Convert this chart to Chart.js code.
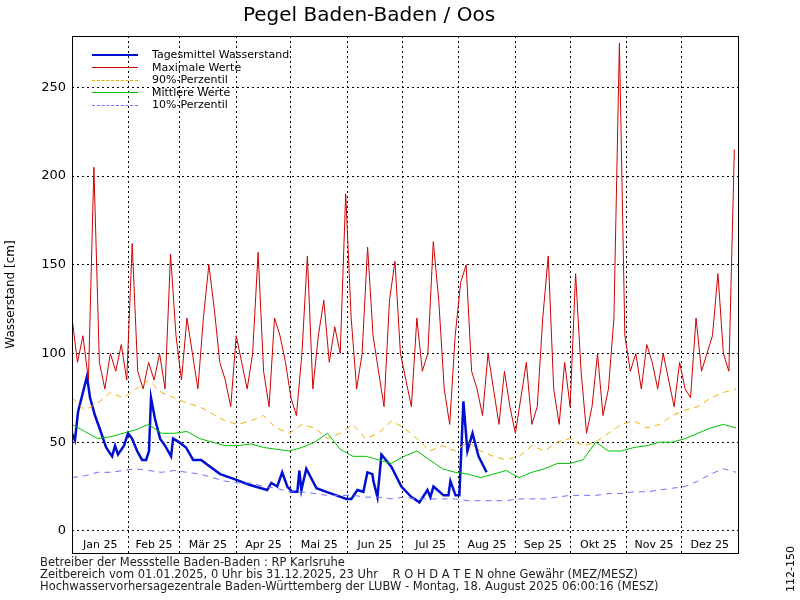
<!DOCTYPE html>
<html>
<head>
<meta charset="utf-8">
<script src="https://cdn.jsdelivr.net/npm/chart.js@4.4.1/dist/chart.umd.min.js"></script>
<style>
  body { margin: 0; background: #fff; font-family: "DejaVu Sans", sans-serif; }
  #wrap { position: relative; width: 800px; height: 600px; }
  #legend { position: absolute; left: 92px; top: 49px; font-size: 11px; line-height: 12.5px; }
  #legend div { display: flex; align-items: center; }
  #legend span.l { display: block; width: 46px; height: 0; margin-right: 14px; }
  #foot { position: absolute; left: 40px; top: 556px; font-size: 11.5px; line-height: 12px; color: #222; white-space: pre; }
  #code { position: absolute; left: 784px; top: 592px; font-size: 11px; white-space: nowrap; transform: rotate(-90deg); transform-origin: left top; }
</style>
</head>
<body>
<div id="wrap">
  <canvas id="c" width="800" height="600"></canvas>
  <div id="legend">
    <div><span class="l" style="border-top:2.5px solid #0010d0"></span>Tagesmittel Wasserstand</div>
    <div><span class="l" style="border-top:1.5px solid #d00000"></span>Maximale Werte</div>
    <div><span class="l" style="border-top:1.5px dashed #f0b000"></span>90%-Perzentil</div>
    <div><span class="l" style="border-top:1.5px solid #00c000"></span>Mittlere Werte</div>
    <div><span class="l" style="border-top:1.5px dashed #7070ff"></span>10%-Perzentil</div>
  </div>
  <div id="foot">Betreiber der Messstelle Baden-Baden : RP Karlsruhe
Zeitbereich vom 01.01.2025, 0 Uhr bis 31.12.2025, 23 Uhr    R O H D A T E N ohne Gewähr (MEZ/MESZ)
Hochwasservorhersagezentrale Baden-Württemberg der LUBW - Montag, 18. August 2025 06:00:16 (MESZ)</div>
  <div id="code">112-150</div>
</div>
<script>
const monthNames = ["Jan 25", "Feb 25", "Mär 25", "Apr 25", "Mai 25", "Jun 25", "Jul 25", "Aug 25", "Sep 25", "Okt 25", "Nov 25", "Dez 25"];
const monthStarts = [0, 31, 59, 90, 120, 151, 181, 212, 243, 273, 304, 334, 365];
const yTicks = [0, 50, 100, 150, 200, 250];

// Tagesmittel (day of year, cm)
const meanDays = [0, 1.6, 3.3, 8.2, 9.9, 12.6, 15.4, 18.7, 22, 23.6, 25.2, 28.5, 30.7, 32.9, 35.7, 38.4, 40.6, 42.2, 43.3, 45.5, 48.3, 51, 54.3, 55.4, 58.7, 62.5, 66.4, 70.8, 74.6, 81.2, 89.4, 97.1, 103.7, 107, 109.2, 112.5, 115.2, 118, 120.7, 123.5, 124.6, 125.7, 128.4, 134, 139.4, 144.9, 150.4, 153.1, 156.4, 159.7, 161.9, 164.6, 165.2, 167.4, 169.6, 175.1, 180.5, 186, 187.7, 190.4, 194.8, 196.4, 198.1, 201.4, 203.6, 206.3, 207.4, 210.2, 212.3, 214.5, 216.7, 219.5, 222.8, 227.2];
const meanVals = [55, 51, 67, 87, 75, 65, 57, 47, 42, 48, 43, 48, 55, 52, 45, 40, 40, 45, 75, 63, 52, 48, 42, 52, 50, 47, 40, 40, 37, 32, 29, 26, 24, 23, 27, 25, 33, 25, 22, 22, 34, 23, 35, 24, 22, 20, 18, 18, 23, 22, 33, 32, 28, 19, 43, 36, 25, 19, 18, 16, 23, 19, 25, 22, 20, 20, 28, 20, 20, 73, 45, 55, 42, 33, 28, 23, 19];

// Maximale Werte, every 3 days
const maxStep = 3;
const maxVals = [120, 95, 110, 85, 205, 95, 80, 100, 90, 105, 85, 162, 90, 80, 95, 85, 100, 80, 156, 110, 85, 120, 100, 80, 120, 150, 125, 95, 85, 70, 110, 95, 80, 100, 157, 90, 70, 120, 110, 95, 75, 65, 100, 155, 80, 110, 130, 95, 115, 100, 190, 120, 80, 100, 160, 110, 90, 70, 130, 152, 100, 85, 70, 120, 90, 100, 163, 130, 80, 60, 110, 140, 150, 90, 80, 65, 100, 80, 60, 90, 70, 55, 75, 95, 60, 70, 120, 155, 80, 60, 95, 70, 145, 90, 55, 70, 100, 65, 80, 120, 275, 110, 90, 100, 80, 105, 95, 80, 100, 85, 70, 95, 80, 75, 120, 90, 100, 110, 145, 100, 90, 215];

// Perzentile und mittlere Werte, weekly
const pStep = 7;
const p90Vals = [75, 68, 72, 78, 75, 80, 85, 78, 75, 72, 70, 66, 62, 60, 62, 65, 58, 55, 60, 58, 52, 55, 60, 52, 55, 62, 58, 52, 45, 48, 45, 50, 45, 42, 40, 42, 48, 45, 50, 52, 48, 50, 55, 60, 62, 58, 60, 65, 68, 70, 75, 78, 80];
const midVals = [60, 56, 52, 53, 55, 57, 60, 55, 55, 56, 52, 50, 48, 48, 49, 47, 46, 45, 47, 50, 55, 46, 42, 42, 40, 38, 42, 45, 40, 35, 33, 32, 30, 32, 34, 30, 33, 35, 38, 38, 40, 50, 45, 45, 47, 48, 50, 50, 52, 55, 58, 60, 58];
const p10Vals = [30, 31, 33, 33, 34, 35, 34, 33, 34, 33, 32, 30, 28, 27, 27, 25, 24, 22, 22, 21, 20, 20, 20, 19, 19, 18, 19, 18, 18, 18, 18, 17, 17, 17, 17, 18, 18, 18, 19, 20, 20, 20, 21, 21, 22, 22, 23, 24, 25, 28, 32, 35, 33];

const pts = (vals, step) => vals.map((v, i) => ({ x: Math.min(i * step, 364), y: v }));
const line = (data, color, width, dash) => ({
  data: data, borderColor: color, borderWidth: width, borderDash: dash || [],
  pointRadius: 0, tension: 0, fill: false
});

// frame + month labels inside the bottom strip
const frame = {
  id: 'frame',
  afterDraw(chart) {
    const a = chart.chartArea, ctx = chart.ctx, xs = chart.scales.x;
    ctx.save();
    ctx.strokeStyle = '#000'; ctx.lineWidth = 1;
    ctx.strokeRect(Math.round(a.left) + 0.5, Math.round(a.top) + 0.5, Math.round(a.width), Math.round(a.height));
    ctx.fillStyle = '#000';
    ctx.font = '11px "DejaVu Sans"';
    ctx.textAlign = 'center'; ctx.textBaseline = 'middle';
    monthNames.forEach((m, i) => {
      const x = xs.getPixelForValue((monthStarts[i] + monthStarts[i + 1]) / 2);
      ctx.fillText(m, x, a.bottom - 8);
    });
    ctx.restore();
  }
};

new Chart(document.getElementById('c'), {
  type: 'line',
  data: {
    datasets: [
      line(pts(p10Vals, pStep), '#7070ff', 1, [6, 5]),
      line(pts(midVals, pStep), '#00c000', 1),
      line(pts(p90Vals, pStep), '#f0b000', 1, [6, 5]),
      line(pts(maxVals, maxStep), '#d00000', 1),
      line(meanDays.map((d, i) => ({ x: d, y: meanVals[i] })), '#0010d0', 2.5)
    ]
  },
  options: {
    responsive: false,
    animation: false,
    layout: { padding: { left: 0, right: 62, top: 0, bottom: 47 } },
    plugins: {
      legend: { display: false },
      tooltip: { enabled: false },
      title: { display: true, text: 'Pegel Baden-Baden / Oos', color: '#000',
        font: { family: 'DejaVu Sans', size: 20, weight: 'normal' }, padding: { top: 4, bottom: 8 } }
    },
    scales: {
      x: {
        type: 'linear', min: 0, max: 365,
        afterBuildTicks: s => { s.ticks = monthStarts.map(v => ({ value: v })); },
        afterFit: s => { s.height = 0; },
        ticks: { display: false },
        grid: { color: '#000', drawTicks: false },
        border: { display: false, dash: [2, 3] }
      },
      y: {
        min: -12.5, max: 279,
        afterBuildTicks: s => { s.ticks = yTicks.map(v => ({ value: v })); },
        afterFit: s => { s.width = 72; },
        title: { display: true, text: 'Wasserstand [cm]', color: '#000', font: { family: 'DejaVu Sans', size: 12 } },
        ticks: { color: '#000', font: { family: 'DejaVu Sans', size: 13 }, padding: 6 },
        grid: { color: '#000', drawTicks: false },
        border: { display: false, dash: [2, 3] }
      }
    }
  },
  plugins: [frame]
});
</script>
</body>
</html>
